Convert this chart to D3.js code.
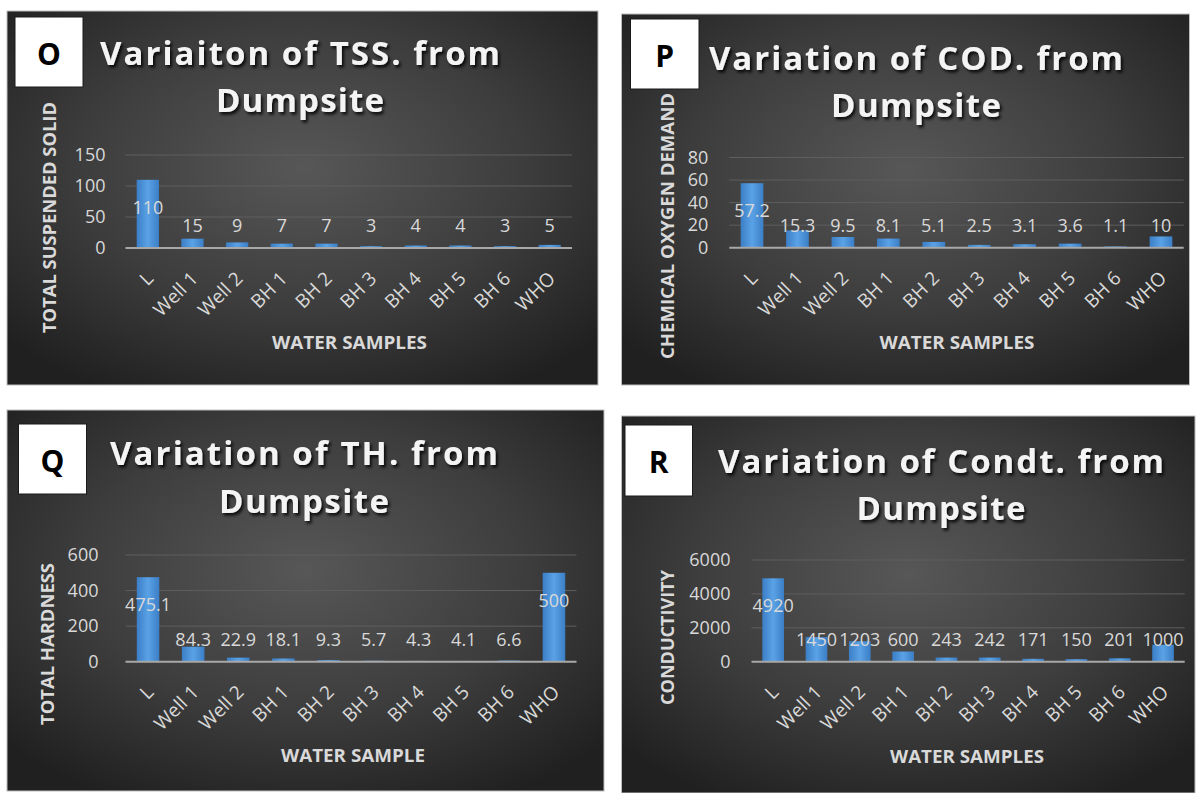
<!DOCTYPE html>
<html>
<head>
<meta charset="utf-8">
<script src="https://cdn.jsdelivr.net/npm/d3@7"></script>
<style>
  html, body { margin: 0; padding: 0; background: #ffffff; }
  svg { display: block; }
  text { font-family: "Open Sans", "Noto Sans", sans-serif; }
</style>
</head>
<body>
<svg id="chart" width="1198" height="793"></svg>
<script>
// ---------- DATA ----------
const categories = ["L", "Well 1", "Well 2", "BH 1", "BH 2", "BH 3", "BH 4", "BH 5", "BH 6", "WHO"];
const tssValues  = [110, 15, 9, 7, 7, 3, 4, 4, 3, 5];
const codValues  = [57.2, 15.3, 9.5, 8.1, 5.1, 2.5, 3.1, 3.6, 1.1, 10];
const thValues   = [475.1, 84.3, 22.9, 18.1, 9.3, 5.7, 4.3, 4.1, 6.6, 500];
const condValues = [4920, 1450, 1203, 600, 243, 242, 171, 150, 201, 1000];

const tssTicks  = [0, 50, 100, 150];
const codTicks  = [0, 20, 40, 60, 80];
const thTicks   = [0, 200, 400, 600];
const condTicks = [0, 2000, 4000, 6000];

const panelLetters = ["O", "P", "Q", "R"];
const titleLine1 = ["Variaiton of TSS. from", "Variation of COD. from", "Variation of TH. from", "Variation of Condt. from"];
const titleLine2 = ["Dumpsite", "Dumpsite", "Dumpsite", "Dumpsite"];
const yTitles = ["TOTAL SUSPENDED SOLID", "CHEMICAL OXYGEN DEMAND", "TOTAL HARDNESS", "CONDUCTIVITY"];
const xTitles = ["WATER SAMPLES", "WATER SAMPLES", "WATER SAMPLE", "WATER SAMPLES"];

// ---------- LAYOUT (positions / sizes only) ----------
const layouts = [
  { panel: [7, 11, 591, 374], box: [15, 17, 68, 70],
    plot: { x0: 125.5, x1: 572, yTop: 155, yBase: 248 }, tickGap: 20,
    title: { cx: 300, b1: 65, w1: 400, b2: 112, w2: 168 },
    yT: { cx: 49, cy: 217.5, len: 231 }, xT: { cx: 349.5, cy: 342, len: 155 } },
  { panel: [621.5, 14, 568, 371], box: [630.5, 19, 68.5, 70],
    plot: { x0: 729.3, x1: 1183.7, yTop: 157.5, yBase: 247.7 }, tickGap: 21,
    title: { cx: 916, b1: 70, w1: 414, b2: 117, w2: 170 },
    yT: { cx: 667, cy: 226, len: 266 }, xT: { cx: 957, cy: 342, len: 155 } },
  { panel: [7, 410, 597, 381], box: [18.5, 424, 68, 70],
    plot: { x0: 125.5, x1: 576.5, yTop: 555, yBase: 661.7 }, tickGap: 27,
    title: { cx: 304, b1: 465, w1: 388, b2: 513, w2: 170 },
    yT: { cx: 47, cy: 644, len: 162 }, xT: { cx: 353, cy: 755, len: 144 } },
  { panel: [621.5, 416, 573.5, 377], box: [625, 425, 67.5, 71],
    plot: { x0: 751.5, x1: 1184.7, yTop: 560, yBase: 661.7 }, tickGap: 21,
    title: { cx: 941, b1: 473, w1: 446, b2: 520, w2: 169 },
    yT: { cx: 667, cy: 637.5, len: 135 }, xT: { cx: 967, cy: 756, len: 154 } }
];

const seriesList = [tssValues, codValues, thValues, condValues];
const tickList = [tssTicks, codTicks, thTicks, condTicks];

// ---------- DRAW ----------
const svg = d3.select("#chart");
const defs = svg.append("defs");

const bg = defs.append("radialGradient").attr("id", "bgGrad")
  .attr("cx", "50%").attr("cy", "42%").attr("r", "68%");
bg.append("stop").attr("offset", "0%").attr("stop-color", "#575757");
bg.append("stop").attr("offset", "55%").attr("stop-color", "#3d3d3d");
bg.append("stop").attr("offset", "100%").attr("stop-color", "#202020");

const barGrad = defs.append("linearGradient").attr("id", "barGrad")
  .attr("x1", "0%").attr("x2", "100%").attr("y1", "0%").attr("y2", "0%");
barGrad.append("stop").attr("offset", "0%").attr("stop-color", "#3b7ec6");
barGrad.append("stop").attr("offset", "50%").attr("stop-color", "#5aa2e6");
barGrad.append("stop").attr("offset", "100%").attr("stop-color", "#3b7ec6");

const shadow = defs.append("filter").attr("id", "titleShadow")
  .attr("x", "-10%").attr("y", "-30%").attr("width", "120%").attr("height", "160%");
shadow.append("feDropShadow").attr("dx", 2).attr("dy", 2.5).attr("stdDeviation", 1.8)
  .attr("flood-color", "#000").attr("flood-opacity", 0.85);

const labelColor = "#d9d9d9";

layouts.forEach((L, i) => {
  const values = seriesList[i];
  const ticks = tickList[i];
  const g = svg.append("g");
  const [px, py, pw, ph] = L.panel;

  g.append("rect").attr("x", px).attr("y", py).attr("width", pw).attr("height", ph)
    .attr("fill", "url(#bgGrad)").attr("stroke", "#bdbdbd").attr("stroke-width", 1);

  // letter box
  const [bx, by, bw, bh] = L.box;
  g.append("rect").attr("x", bx).attr("y", by).attr("width", bw).attr("height", bh)
    .attr("fill", "#ffffff").attr("stroke", "#1a1a1a").attr("stroke-width", 1);
  g.append("text").attr("x", bx + bw / 2).attr("y", by + bh / 2 + 1)
    .attr("text-anchor", "middle").attr("dominant-baseline", "central")
    .attr("font-size", 30).attr("font-weight", 700).attr("fill", "#000")
    .text(panelLetters[i]);

  // title
  const T = L.title;
  [[titleLine1[i], T.b1, T.w1], [titleLine2[i], T.b2, T.w2]].forEach(([txt, b, w]) => {
    g.append("text").attr("x", T.cx).attr("y", b)
      .attr("text-anchor", "middle").attr("font-size", 33).attr("font-weight", 700)
      .attr("fill", "#f4f4f4").attr("filter", "url(#titleShadow)")
      .attr("textLength", w).attr("lengthAdjust", "spacing")
      .text(txt);
  });

  // scales
  const P = L.plot;
  const x = d3.scaleBand().domain(categories).range([P.x0, P.x1])
    .paddingInner(0.5).paddingOuter(0.25);
  const y = d3.scaleLinear().domain([0, d3.max(ticks)]).range([P.yBase, P.yTop]);

  // gridlines
  g.append("g").selectAll("line").data(ticks.filter(t => t !== 0)).join("line")
    .attr("x1", P.x0).attr("x2", P.x1)
    .attr("y1", d => y(d)).attr("y2", d => y(d))
    .attr("stroke", "#5e5e5e").attr("stroke-width", 1);

  // y axis tick labels
  const yAxis = d3.axisLeft(y).tickValues(ticks).tickSize(0).tickPadding(L.tickGap).tickFormat(d3.format("d"));
  const ya = g.append("g").attr("transform", `translate(${P.x0},0)`).call(yAxis);
  ya.select(".domain").remove();
  ya.selectAll("text").attr("font-size", 18).attr("fill", labelColor)
    .attr("font-family", "'Open Sans', sans-serif");

  // bars
  g.append("g").selectAll("rect").data(values).join("rect")
    .attr("x", (d, j) => x(categories[j]))
    .attr("width", x.bandwidth())
    .attr("y", d => y(d))
    .attr("height", d => P.yBase - y(d))
    .attr("fill", "url(#barGrad)");

  // baseline axis
  const xAxis = d3.axisBottom(x).tickSize(0).tickFormat("");
  const xa = g.append("g").attr("transform", `translate(0,${P.yBase})`).call(xAxis);
  xa.select(".domain").attr("stroke", "#a8a8a8").attr("stroke-width", 2)
    .attr("d", `M${P.x0},0H${P.x1}`);

  // category labels (rotated)
  g.append("g").selectAll("text").data(categories).join("text")
    .attr("transform", d => `translate(${x(d) + x.bandwidth() / 2 + 2},${P.yBase + 27}) rotate(-45)`)
    .attr("text-anchor", "end").attr("dy", "0.35em")
    .attr("font-size", 19).attr("fill", labelColor)
    .text(d => d);

  // data labels
  g.append("g").selectAll("text").data(values).join("text")
    .attr("x", (d, j) => x(categories[j]) + x.bandwidth() / 2)
    .attr("y", d => Math.min(y(d) + 27, P.yBase - 23))
    .attr("text-anchor", "middle").attr("dominant-baseline", "central")
    .attr("font-size", 18).attr("fill", labelColor)
    .text(d => d);

  // axis titles
  g.append("text").attr("transform", `translate(${L.yT.cx},${L.yT.cy}) rotate(-90)`)
    .attr("text-anchor", "middle").attr("dominant-baseline", "central")
    .attr("font-size", 18).attr("font-weight", 700).attr("fill", labelColor)
    .attr("textLength", L.yT.len).attr("lengthAdjust", "spacingAndGlyphs")
    .text(yTitles[i]);
  g.append("text").attr("x", L.xT.cx).attr("y", L.xT.cy)
    .attr("text-anchor", "middle").attr("dominant-baseline", "central")
    .attr("font-size", 18).attr("font-weight", 700).attr("fill", labelColor)
    .attr("textLength", L.xT.len).attr("lengthAdjust", "spacingAndGlyphs")
    .text(xTitles[i]);
});
</script>
</body>
</html>
